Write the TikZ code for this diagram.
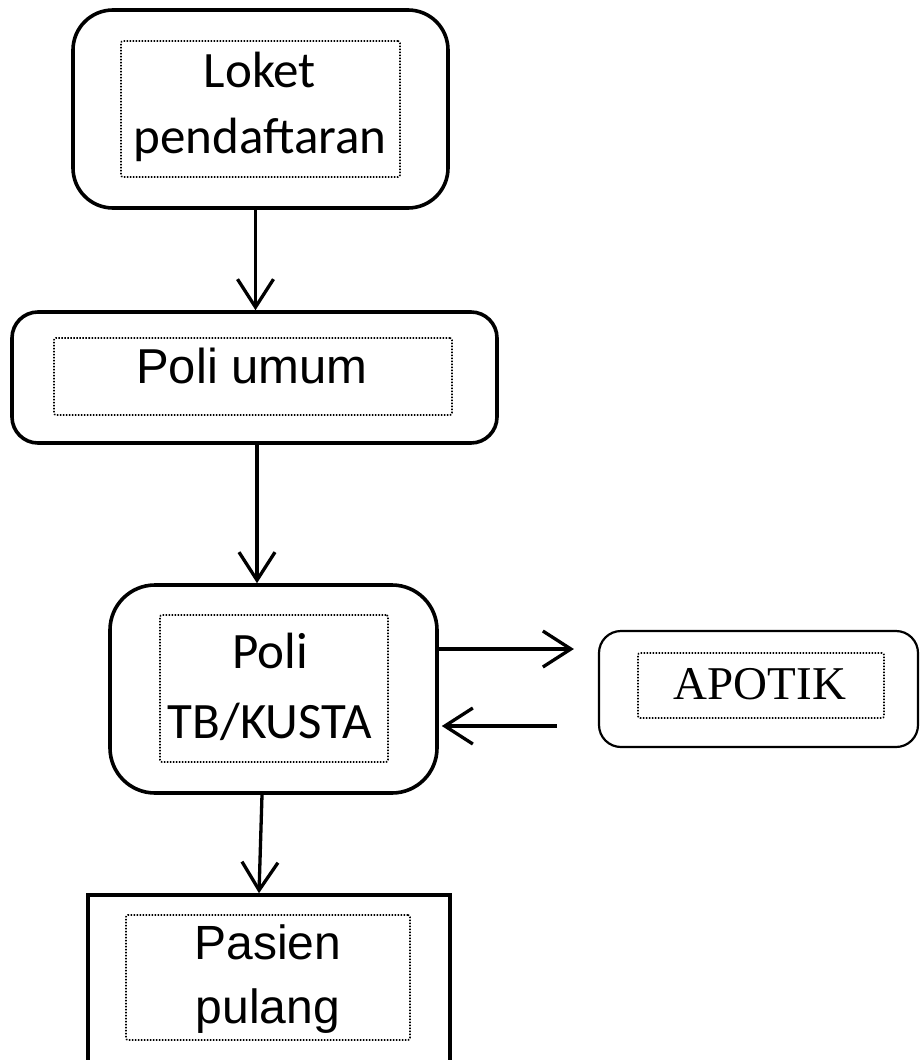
\documentclass[tikz,border=0pt]{standalone}
\usepackage{fontspec}
\usetikzlibrary{arrows.meta,calc}
\newfontfamily\calib{Carlito}
\newfontfamily\arialf{Liberation Sans}
\newfontfamily\camb{Liberation Serif}
\tikzset{
  outerbox/.style={draw=black, line width=3.6pt, inner sep=0pt, fill=white},
  innerbox/.style={draw=black, line width=1.6pt, dash pattern=on 1.5pt off 1.5pt, rounded corners=2pt, inner sep=0pt},
  lbl/.style={inner sep=0pt, align=center, text=black},
  arr/.style={line width=3.3pt, -{Straight Barb[length=28pt,width=36pt,line width=3.3pt]}}
}
\begin{document}
\begin{tikzpicture}[x=1pt,y=-1pt]
\useasboundingbox (0,0) rectangle (920,1060);
\clip (0,0) rectangle (920,1060);
% box 1
\node[outerbox, rounded corners=40pt, minimum width=375pt, minimum height=198pt] (b1) at (260.5,109) {};
\node[innerbox, minimum width=279pt, minimum height=136pt] (b1i) at (260.5,109) {};
\node[lbl, font=\calib\fontsize{51pt}{66pt}\selectfont] (b1t) at (260,107) {Loket\\pendaftaran};
% box 2
\node[outerbox, rounded corners=26pt, minimum width=485pt, minimum height=131pt] (b2) at (254.5,377.5) {};
\node[innerbox, minimum width=398pt, minimum height=77pt] (b2i) at (253,376.5) {};
\node[lbl, font=\arialf\fontsize{49pt}{56pt}\selectfont] (b2t) at (252,366) {Poli umum};
% box 3
\node[outerbox, rounded corners=45pt, minimum width=327pt, minimum height=208pt] (b3) at (273.5,689) {};
\node[innerbox, minimum width=228pt, minimum height=147pt] (b3i) at (274,688.5) {};
\node[lbl, font=\calib\fontsize{51pt}{70pt}\selectfont] (b3t) at (270,687) {Poli\\TB/KUSTA};
% apotik
\node[outerbox, line width=2.2pt, rounded corners=22pt, minimum width=319pt, minimum height=116pt] (ap) at (758.5,689) {};
\node[innerbox, minimum width=246pt, minimum height=65pt] (api) at (761,685.5) {};
\node[lbl, font=\camb\fontsize{47pt}{50pt}\selectfont] (apt) at (760,684) {APOTIK};
% box 5
\node[outerbox, minimum width=362pt, minimum height=205pt] (b5) at (269,997.5) {};
\node[innerbox, minimum width=284pt, minimum height=125pt] (b5i) at (268,977.5) {};
\node[lbl, font=\arialf\fontsize{48pt}{64pt}\selectfont] (b5t) at (268,979) {Pasien\\pulang};
% arrows
\draw[arr] ($(b1.south)+(-5,0)$) -- ($(b1.south |- b2.north)+(-5,0)$);
\draw[arr] ($(b2.south)+(2.5,0)$) -- ($(b2.south |- b3.north)+(2.5,0)$);
\draw[arr] ($(b3.east)+(0,-40)$) -- ($(b3.east -| ap.west)+(-24,-40)$);
\draw[arr] ($(b3.east -| ap.west)+(-41,37)$) -- ($(b3.east)+(3,37)$);
\draw[arr] ($(b3.south)+(-11.5,0)$) -- ($(b5.north)+(-10,0)$);
\end{tikzpicture}
\end{document}
